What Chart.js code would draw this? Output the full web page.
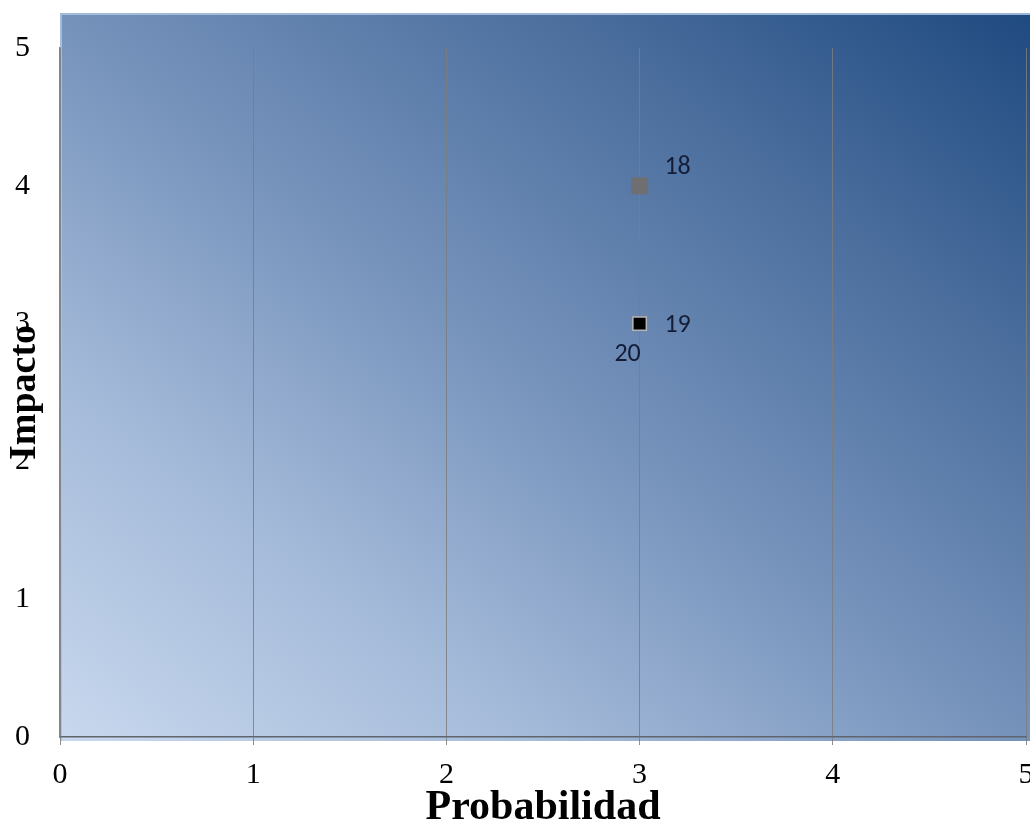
<!DOCTYPE html>
<html>
<head>
<meta charset="utf-8">
<script src="https://cdn.jsdelivr.net/npm/chart.js@4"></script>
<style>
  html, body { margin: 0; padding: 0; background: #ffffff; }
  #wrap { width: 1030px; height: 827px; }
</style>
</head>
<body>
<div id="wrap"><canvas id="c" width="1030" height="827"></canvas></div>
<script>
// ---- data ----
const pointLabels = ['18', '19', '20'];
const probabilidad = [3, 3, 3];
const impacto = [4, 3, 3];
const xTickValues = [0, 1, 2, 3, 4, 5];
const yTickValues = [0, 1, 2, 3, 4, 5];
const xTitle = 'Probabilidad';
const yTitle = 'Impacto';

// ---- styles ----
const pointStyles = [
  { bg: '#6f6f72', border: '#7a7a7c', bw: 0, r: 12, order: 1 },
  { bg: '#000000', border: '#b4b4b4', bw: 1.5, r: 9.5, order: 0 },
  { bg: '#a8a8a8', border: '#a8a8a8', bw: 0, r: 10, order: 2 }
];
const labelOffsets = [[38, -18], [38, 2], [-12, 31]];

const datasets = pointLabels.map((lab, i) => ({
  label: lab,
  data: [{ x: probabilidad[i], y: impacto[i] }],
  pointStyle: 'rect',
  pointRadius: pointStyles[i].r,
  pointHoverRadius: pointStyles[i].r,
  backgroundColor: pointStyles[i].bg,
  borderColor: pointStyles[i].border,
  borderWidth: pointStyles[i].bw,
  order: pointStyles[i].order
}));

const bgPlugin = {
  id: 'plotBg',
  beforeDraw(chart) {
    const { ctx, chartArea: a } = chart;
    const x0 = a.left, y0 = a.top - 35, x1 = chart.width + 2, y1 = a.bottom + 4;
    const w = x1 - x0, h = y1 - y0;
    const len = Math.hypot(h, w);
    const ux = h / len, uy = -w / len;
    const proj = (w * ux + (-h) * uy);
    const g = ctx.createLinearGradient(x0, y1, x0 + ux * proj, y1 + uy * proj);
    g.addColorStop(0, '#c8d8ee');
    g.addColorStop(0.25, '#a4bad9');
    g.addColorStop(0.5, '#7592bb');
    g.addColorStop(0.75, '#4c6f9e');
    g.addColorStop(1, '#1f4a80');
    ctx.save();
    ctx.fillStyle = g;
    ctx.fillRect(x0, y0, w, h);
    ctx.strokeStyle = 'rgba(170,192,222,0.9)';
    ctx.lineWidth = 2;
    ctx.beginPath();
    ctx.moveTo(x0 + 1, y1);
    ctx.lineTo(x0 + 1, y0 + 1);
    ctx.lineTo(x1, y0 + 1);
    ctx.stroke();
    ctx.restore();
  }
};

const labelPlugin = {
  id: 'pointLabels',
  afterDatasetsDraw(chart) {
    const { ctx } = chart;
    ctx.save();
    ctx.font = '26px Carlito, "Liberation Sans Narrow", "Open Sans", sans-serif';
    ctx.fillStyle = '#141d38';
    ctx.textAlign = 'center';
    ctx.textBaseline = 'middle';
    chart.data.datasets.forEach((ds, i) => {
      const el = chart.getDatasetMeta(i).data[0];
      if (!el) return;
      ctx.fillText(ds.label, el.x + labelOffsets[i][0], el.y + labelOffsets[i][1]);
    });
    ctx.restore();
  }
};

const serif = '"Liberation Serif", "Times New Roman", "DejaVu Serif", serif';

new Chart(document.getElementById('c'), {
  type: 'scatter',
  data: { datasets },
  plugins: [bgPlugin, labelPlugin],
  options: {
    responsive: false,
    animation: false,
    events: [],
    layout: { autoPadding: false, padding: { top: 48, right: 4, left: 0, bottom: 0 } },
    plugins: { legend: { display: false }, tooltip: { enabled: false } },
    scales: {
      x: {
        type: 'linear',
        min: xTickValues[0],
        max: xTickValues[xTickValues.length - 1],
        afterBuildTicks(scale) { scale.ticks = xTickValues.map(v => ({ value: v })); },
        afterFit(scale) { scale.height = 90; scale.paddingLeft = 0; scale.paddingRight = 0; },
        ticks: { color: '#000', font: { family: serif, size: 30 }, padding: 12, maxRotation: 0, autoSkip: false },
        grid: { color: 'rgba(125,125,125,0.85)', lineWidth: 1, drawTicks: true, tickLength: 8 },
        border: { display: true, color: '#5f656d', width: 1.5 },
        title: { display: true, text: xTitle, color: '#000',
                 font: { family: serif, size: 42, weight: 'bold', lineHeight: 0.9 }, padding: { top: 0, bottom: 0 } }
      },
      y: {
        type: 'linear',
        min: yTickValues[0],
        max: yTickValues[yTickValues.length - 1],
        afterBuildTicks(scale) { scale.ticks = yTickValues.map(v => ({ value: v })); },
        afterFit(scale) { scale.width = 60; scale.paddingTop = 0; scale.paddingBottom = 0; },
        ticks: { color: '#000', font: { family: serif, size: 30 }, padding: 30, autoSkip: false },
        grid: { display: false, drawTicks: false },
        border: { display: true, color: '#7d8590', width: 1.5 },
        title: { display: true, text: yTitle, color: '#000',
                 font: { family: serif, size: 38, weight: 'bold', lineHeight: 1 }, padding: { top: 6, bottom: 0 } }
      }
    }
  }
});
</script>
</body>
</html>
